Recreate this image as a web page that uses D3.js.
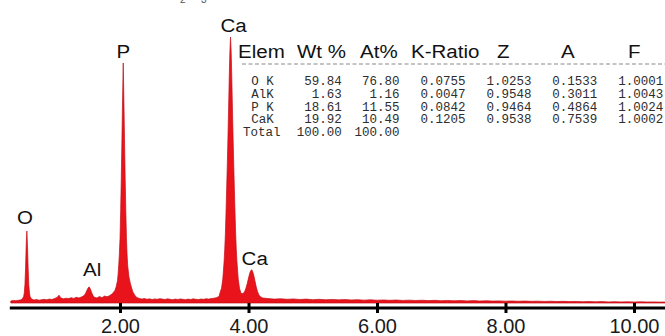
<!DOCTYPE html>
<html>
<head>
<meta charset="utf-8">
<script src="https://cdn.jsdelivr.net/npm/d3@7"></script>
<style>
  html, body { margin: 0; padding: 0; background: #fff; }
  svg { display: block; }
</style>
</head>
<body>
<svg id="chart" width="665" height="336"></svg>
<script>
// spectrum: [energy keV, counts]
var spectrum = [
  [0.30, 22], [0.34, 28], [0.38, 25], [0.42, 30], [0.46, 34], [0.48, 45],
  [0.50, 70], [0.51, 110], [0.52, 200], [0.53, 380], [0.54, 640], [0.55, 780],
  [0.56, 620], [0.57, 380], [0.58, 200], [0.59, 110], [0.60, 70], [0.62, 45],
  [0.66, 32], [0.70, 38], [0.74, 30], [0.78, 36], [0.82, 40], [0.86, 34],
  [0.90, 42], [0.94, 38], [0.98, 48], [1.02, 60], [1.05, 85], [1.08, 55],
  [1.12, 45], [1.16, 52], [1.20, 48], [1.24, 58], [1.28, 50], [1.32, 62],
  [1.36, 55], [1.40, 65], [1.44, 80], [1.46, 100], [1.48, 130], [1.50, 160],
  [1.52, 175], [1.54, 150], [1.56, 110], [1.58, 80], [1.60, 62], [1.64, 55],
  [1.68, 70], [1.72, 58], [1.76, 75], [1.80, 68], [1.84, 80], [1.88, 100],
  [1.92, 135], [1.94, 175], [1.96, 240], [1.97, 310], [1.98, 410], [1.99, 530],
  [2.00, 700], [2.01, 1000], [2.02, 1360], [2.03, 1780], [2.04, 2220], [2.05, 2600],
  [2.06, 2220], [2.07, 1780], [2.08, 1360], [2.09, 1000], [2.10, 710], [2.11, 520],
  [2.12, 400], [2.14, 280], [2.16, 215], [2.18, 165], [2.20, 120], [2.23, 85],
  [2.26, 60], [2.30, 50], [2.34, 42], [2.38, 48], [2.42, 40], [2.46, 45],
  [2.50, 38], [2.54, 44], [2.58, 40], [2.62, 47], [2.66, 42], [2.70, 38],
  [2.74, 45], [2.78, 40], [2.82, 36], [2.86, 42], [2.90, 38], [2.94, 44],
  [2.98, 40], [3.02, 36], [3.06, 42], [3.10, 38], [3.14, 45], [3.18, 40],
  [3.22, 37], [3.26, 43], [3.30, 40], [3.34, 46], [3.38, 42], [3.42, 48],
  [3.46, 52], [3.50, 58], [3.54, 70], [3.56, 118], [3.58, 160], [3.60, 260],
  [3.62, 450], [3.63, 580], [3.64, 750], [3.65, 980], [3.66, 1240], [3.67, 1500],
  [3.68, 1790], [3.69, 2100], [3.70, 2440], [3.71, 2720], [3.72, 2880], [3.73, 2720],
  [3.74, 2440], [3.75, 2100], [3.76, 1790], [3.77, 1500], [3.78, 1240], [3.79, 980],
  [3.80, 750], [3.81, 580], [3.82, 450], [3.84, 260], [3.86, 160], [3.88, 110],
  [3.90, 100], [3.92, 105], [3.94, 125], [3.96, 160], [3.98, 210], [4.00, 270],
  [4.02, 325], [4.04, 355], [4.05, 360], [4.06, 350], [4.08, 305], [4.10, 240],
  [4.12, 175], [4.14, 125], [4.16, 90], [4.18, 70], [4.22, 55], [4.30, 48],
  [4.40, 42], [4.50, 46], [4.60, 40], [4.70, 44], [4.80, 38], [4.90, 42],
  [5.00, 36], [5.10, 40], [5.20, 35], [5.30, 39], [5.40, 34], [5.50, 37],
  [5.60, 33], [5.70, 36], [5.80, 31], [5.90, 35], [6.00, 30], [6.10, 33],
  [6.20, 29], [6.30, 32], [6.40, 28], [6.50, 31], [6.60, 27], [6.70, 30],
  [6.80, 26], [6.90, 29], [7.00, 25], [7.10, 28], [7.20, 24], [7.30, 27],
  [7.40, 23], [7.50, 26], [7.60, 22], [7.70, 24], [7.80, 21], [7.90, 23],
  [8.00, 20], [8.10, 22], [8.20, 19], [8.30, 21], [8.40, 18], [8.50, 20],
  [8.60, 17], [8.70, 19], [8.80, 16], [8.90, 18], [9.00, 15], [9.10, 17],
  [9.20, 14], [9.30, 16], [9.40, 13], [9.50, 15], [9.60, 12], [9.70, 14],
  [9.80, 12], [9.90, 13], [10.00, 11], [10.10, 13], [10.20, 11], [10.30, 12],
  [10.40, 10], [10.50, 11]
];

var peakNames = ['O', 'Al', 'P', 'Ca', 'Ca'];
var peakEnergy = [0.55, 1.52, 2.05, 3.72, 4.05];
var peakCounts = [780, 175, 2600, 2880, 360];

var tickValues = [2, 4, 6, 8, 10];

var tableHeader = ['Elem', 'Wt %', 'At%', 'K-Ratio', 'Z', 'A', 'F'];
var elements = ['O K', 'AlK', 'P K', 'CaK'];
var wtPct = [59.84, 1.63, 18.61, 19.92];
var atPct = [76.80, 1.16, 11.55, 10.49];
var kRatio = [0.0755, 0.0047, 0.0842, 0.1205];
var zCorr = [1.0253, 0.9548, 0.9464, 0.9538];
var aCorr = [0.1533, 0.3011, 0.4864, 0.7539];
var fCorr = [1.0001, 1.0043, 1.0024, 1.0002];
var totalLabel = 'Total';
var totals = [100.00, 100.00];

// layout
var headerX = [238, 297, 360, 411, 497, 561, 628];
var labelNudge = [[-2, -7], [3, -11], [0, -5], [3, -5], [3, -5]];
var charW = 8.24, tableLeft = 243, colEnds = [12, 19, 27, 35, 43, 51];

var svg = d3.select('#chart');
var sans = 'Liberation Sans, Arial, sans-serif';

var x = d3.scaleLinear().domain([0.3, 10.5]).range([10.8, 666.1]);
var y = d3.scaleLinear().domain([0, 3000]).range([303, 26]);

var area = d3.area()
  .x(function(d) { return x(d[0]); })
  .y0(y(0))
  .y1(function(d) { return y(d[1]); });

svg.append('path')
  .datum(spectrum)
  .attr('d', area)
  .attr('fill', '#e8131b')
  .attr('stroke', '#c41018')
  .attr('stroke-width', 0.7);

// axis
svg.append('line')
  .attr('x1', x.range()[0] - 1).attr('x2', 665)
  .attr('y1', 308).attr('y2', 308)
  .attr('stroke', '#000').attr('stroke-width', 3);

var xAxis = svg.append('g')
  .attr('transform', 'translate(0,303)')
  .call(d3.axisBottom(x).tickValues(tickValues).tickFormat(d3.format('.2f'))
    .tickSize(10).tickPadding(6));
xAxis.select('.domain').remove();
xAxis.selectAll('.tick line').attr('stroke', '#000').attr('stroke-width', 3);
xAxis.selectAll('.tick text')
  .attr('fill', '#1a1a1a')
  .style('font-family', sans)
  .style('font-size', '20px');

// peak labels
svg.selectAll('.peak-label')
  .data(peakNames)
  .enter().append('text')
  .attr('class', 'peak-label')
  .attr('transform', function(d, i) {
    return 'translate(' + [x(peakEnergy[i]) + labelNudge[i][0], y(peakCounts[i]) + labelNudge[i][1]] + ') scale(1.08,1)';
  })
  .attr('text-anchor', 'middle')
  .style('font-family', sans)
  .style('font-size', '19px')
  .attr('fill', '#111')
  .text(function(d) { return d; });

// table
svg.selectAll('.head')
  .data(tableHeader)
  .enter().append('text')
  .attr('class', 'head')
  .attr('transform', function(d, i) { return 'translate(' + [headerX[i], 58] + ') scale(1.08,1)'; })
  .style('font-family', sans)
  .style('font-size', '19px')
  .attr('fill', '#111')
  .text(function(d) { return d; });

svg.append('line')
  .attr('x1', 242).attr('x2', 665)
  .attr('y1', 64).attr('y2', 64)
  .attr('stroke', '#8a8a8a').attr('stroke-width', 1.2)
  .attr('stroke-dasharray', '4,2.5');

var mono = 'Liberation Mono, DejaVu Sans Mono, monospace';
var f2 = d3.format('.2f'), f4 = d3.format('.4f');
var rowY = function(i) { return 85 + i * 12.8; };
var colX = function(c) { return tableLeft + colEnds[c] * charW; };

var columns = [[wtPct, f2], [atPct, f2], [kRatio, f4], [zCorr, f4], [aCorr, f4], [fCorr, f4]];

var table = svg.append('g')
  .style('font-family', mono)
  .style('font-size', '12.5px')
  .attr('fill', '#2e2e2e');

elements.forEach(function(el, i) {
  table.append('text')
    .attr('x', tableLeft + charW).attr('y', rowY(i))
    .text(el);
  columns.forEach(function(col, c) {
    table.append('text')
      .attr('x', colX(c)).attr('y', rowY(i))
      .attr('text-anchor', 'end')
      .text(col[1](col[0][i]));
  });
});

table.append('text')
  .attr('x', tableLeft).attr('y', rowY(elements.length))
  .text(totalLabel);
totals.forEach(function(v, c) {
  table.append('text')
    .attr('x', colX(c)).attr('y', rowY(elements.length))
    .attr('text-anchor', 'end')
    .text(f2(v));
});

// clipped subscripts of a caption above the picture
svg.append('text').attr('x', 180).attr('y', 3)
  .style('font-family', sans).style('font-size', '10px').attr('fill', '#555').text('2');
svg.append('text').attr('x', 201).attr('y', 3)
  .style('font-family', sans).style('font-size', '10px').attr('fill', '#555').text('3');
</script>
</body>
</html>
